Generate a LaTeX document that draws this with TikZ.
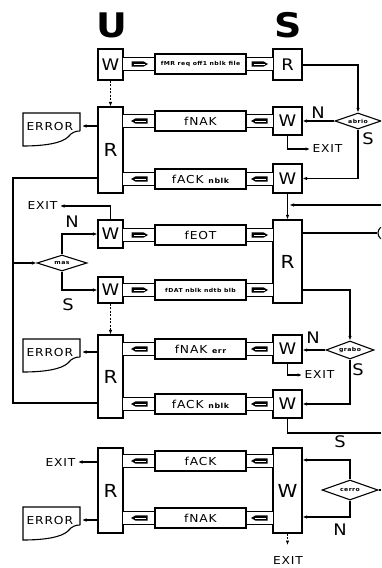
\documentclass[tikz,border=0pt]{standalone}
\usepackage{fontspec}
\setmainfont{DejaVu Sans}[FakeStretch=1.12,LetterSpace=8]
\usetikzlibrary{shapes.geometric,arrows.meta,calc}
\tikzset{
 ubox/.style={draw, minimum width=25bp, inner sep=0pt, font=\fontsize{16}{16}\selectfont},
 sbox/.style={ubox, minimum width=29bp},
 bigl/.style={font=\fontsize{18}{18}\selectfont},
 lblbox/.style={draw, fill=white, minimum width=91bp, minimum height=20bp, inner sep=0pt, font=\fontsize{11}{11}\selectfont},
 dia/.style={diamond, draw, inner sep=0pt, aspect=3, font=\fontsize{5.5}{6}\selectfont\bfseries},
 txt/.style={inner sep=2bp, font=\fontsize{11}{11}\selectfont},
 yn/.style={inner sep=0pt, font=\fontsize{16}{16}\selectfont},
 arr/.style={-{Latex[length=4.5bp,width=3.5bp]}},
 dsh/.style={line width=0.7bp, dash pattern=on 2bp off 1.5bp},
}
\newcommand\tinyt[1]{{\fontsize{5.5}{6}\selectfont\bfseries #1}}
\newcommand\smallt[1]{{\fontsize{7}{7}\selectfont\bfseries #1}}
\newcommand\glyph[3]{%
 \begin{scope}[shift={(#1,#2)}, xscale=#3]
  \fill[black] (-8,-2.6) -- (4,-2.6) -- (8.5,0) -- (4,2.6) -- (-8,2.6) -- cycle;
  \draw[white, line width=0.8bp] (-6,0) -- (5,0);
 \end{scope}}
\newcommand\pipeRow[6]{%
 \fill[white] ($(#1.east |- 0,#4)+(-1,-6)$) rectangle ($(#2.west |- 0,#4)+(1,6)$);
 \draw ($(#1.east |- 0,#4)+(-0.55,-6.5)$) -- ($(#2.west |- 0,#4)+(0.55,-6.5)$);
 \draw ($(#1.east |- 0,#4)+(-0.55,6.5)$) -- ($(#2.west |- 0,#4)+(0.55,6.5)$);
 \node[lblbox] (#3) at (200.5,#4) {#5};
 \glyph{139.5}{#4}{#6}\glyph{259.5}{#4}{#6}}
\newcommand\errDoc[2]{%
 \draw (80,#2+18) -- (80,#2) -- (23,#2) -- (23,#2+33) .. controls (45,#2+33) and (62,#2+30) .. (68,#2+24) .. controls (72,#2+19) and (76,#2+18) .. (80,#2+18);
 \node[txt, anchor=west] (#1) at (24,#2+14) {ERROR};
 \coordinate (#1r) at (82,#2+13);}
\begin{document}
\begin{tikzpicture}[x=1bp, y=-1bp, line width=1.1bp]
\fill[white] (0,0) rectangle (381,568);
\useasboundingbox (0,0) rectangle (381,568);
\clip (0,0) rectangle (381,568);
% titles
\node[inner sep=0pt, font=\fontsize{34}{34}\selectfont\bfseries] (tu) at (112,25) {U};
\node[inner sep=0pt, font=\fontsize{34}{34}\selectfont\bfseries] (ts) at (288,25) {S};
% boxes section 1
\node[ubox, minimum height=31bp] (wA) at (110.5,64.5) {W};
\node[sbox, minimum height=31bp] (rA) at (287.5,64.5) {R};
\node[ubox, bigl, minimum height=86bp] (r1) at (110.5,150) {R};
\node[sbox, minimum height=28bp] (w1a) at (287.5,121) {W};
\node[sbox, minimum height=29bp] (w1b) at (287.5,178.5) {W};
\node[dia, minimum width=46bp, minimum height=16bp] (d1) at (358,121) {abrio};
% boxes EOT/DAT
\node[ubox, minimum height=28bp] (weot) at (110.5,234) {W};
\node[ubox, minimum height=26bp] (wdat) at (110.5,290) {W};
\node[sbox, bigl, minimum height=83bp] (rs) at (287.5,261.5) {R};
\node[dia, minimum width=50bp, minimum height=16bp] (dmes) at (62,263) {mas};
% boxes section 2
\node[ubox, bigl, minimum height=83bp] (r2) at (110.5,376.5) {R};
\node[sbox, minimum height=28bp] (w2a) at (287.5,349) {W};
\node[sbox, minimum height=28bp] (w2b) at (287.5,404) {W};
\node[dia, minimum width=48bp, minimum height=18bp] (d2) at (350,350) {grabo};
% boxes section 3
\node[ubox, bigl, minimum height=85bp] (r3) at (110.5,490.5) {R};
\node[sbox, bigl, minimum height=85bp] (w3) at (287.5,490.5) {W};
\node[dia, minimum width=56bp, minimum height=20bp] (d3) at (350,490) {cerro};
% pipes
\pipeRow{wA}{rA}{pA}{64}{\tinyt{fMR req off1 nblk file}}{1}
\pipeRow{r1}{w1a}{p1a}{121}{fNAK}{-1}
\pipeRow{r1}{w1b}{p1b}{179}{fACK \smallt{nblk}}{-1}
\pipeRow{weot}{rs}{peot}{235}{fEOT}{1}
\pipeRow{wdat}{rs}{pdat}{290}{\tinyt{fDAT nblk ndtb blb}}{1}
\pipeRow{r2}{w2a}{p2a}{349}{fNAK \smallt{err}}{-1}
\pipeRow{r2}{w2b}{p2b}{404}{fACK \smallt{nblk}}{-1}
\pipeRow{r3}{w3}{p3a}{461}{fACK}{-1}
\pipeRow{r3}{w3}{p3b}{518}{fNAK}{-1}
% error documents
\errDoc{err1}{113}
\errDoc{err2}{339}
\errDoc{err3}{507}
% exit texts
\node[txt, anchor=west] (exit1) at (310,149) {EXIT};
\node[txt, anchor=east] (exit2) at (60,206) {EXIT};
\node[txt, anchor=west] (exit3) at (302,375) {EXIT};
\node[txt, anchor=east] (exit4) at (78,462) {EXIT};
\node[txt] (exit5) at (288,560) {EXIT};
\coordinate (e5) at (287.5,545);
% N / S labels
\node[yn] (n1) at (318,113) {N};
\node[yn] (s1) at (368,139) {S};
\node[yn] (n2) at (72,222) {N};
\node[yn] (s2) at (68,305) {S};
\node[yn] (n3) at (313,338) {N};
\node[yn] (s3) at (358,370) {S};
\node[yn] (s4) at (340,442) {S};
\node[yn] (n4) at (340,530) {N};
% connectors section 1
\draw[arr] (rA.east |- 0,65) -| (d1.north);
\draw[arr] (d1.west) -- (w1a.east |- d1.west);
\draw[arr] (d1.south) |- (w1b.east);
\draw[arr] (w1a.south) |- (exit1.west);
\draw[dsh, arr] (wA.south) -- (r1.north);
\draw[arr] (r1.west |- err1r) -- (err1r);
% left loop into mas
\coordinate (lj) at (13,263);
\draw (r1.west |- 0,178) -| (lj);
\draw (r2.west |- 0,403) -| (lj);
\draw[arr] (lj) -- (dmes.west);
% EOT / DAT
\draw[arr] (weot.north) |- (exit2.east);
\draw[arr] (dmes.north) |- (weot.west);
\draw[arr] (dmes.south) |- (wdat.west);
\draw[dsh, arr] (wdat.south) -- (r2.north);
\coordinate (edge1) at (381,205);
\coordinate (j1) at (289.5,205);
\draw[arr] (w1b.south) -- (rs.north);
\draw[arr] (edge1) -- (j1);
\node[circle, draw, minimum size=14bp, inner sep=0pt] (conn) at (385,233) {};
\draw (rs.east |- 0,233) -- (conn.west);
\draw[arr] (rs.east |- 0,290) -| (d2.north);
% section 2
\draw[arr] (d2.west) -- (w2a.east |- d2.west);
\draw[arr] (d2.south) |- (w2b.east);
\draw[arr] (w2a.south) |- (exit3.west);
\draw[arr] (r2.west |- err2r) -- (err2r);
\coordinate (edge2) at (381,433);
\draw (w2b.south) |- (edge2);
% section 3
\draw[arr] (r3.west |- 0,462) -- (exit4.east);
\draw[arr] (r3.west |- err3r) -- (err3r);
\draw[arr] (d3.north) |- (w3.east |- 0,460);
\draw[arr] (d3.south) |- (w3.east |- 0,517);
\coordinate (edge3) at (381,490);
\draw (d3.east) -- (edge3);
\draw[dsh, arr] (w3.south) -- (e5);
\end{tikzpicture}
\end{document}
